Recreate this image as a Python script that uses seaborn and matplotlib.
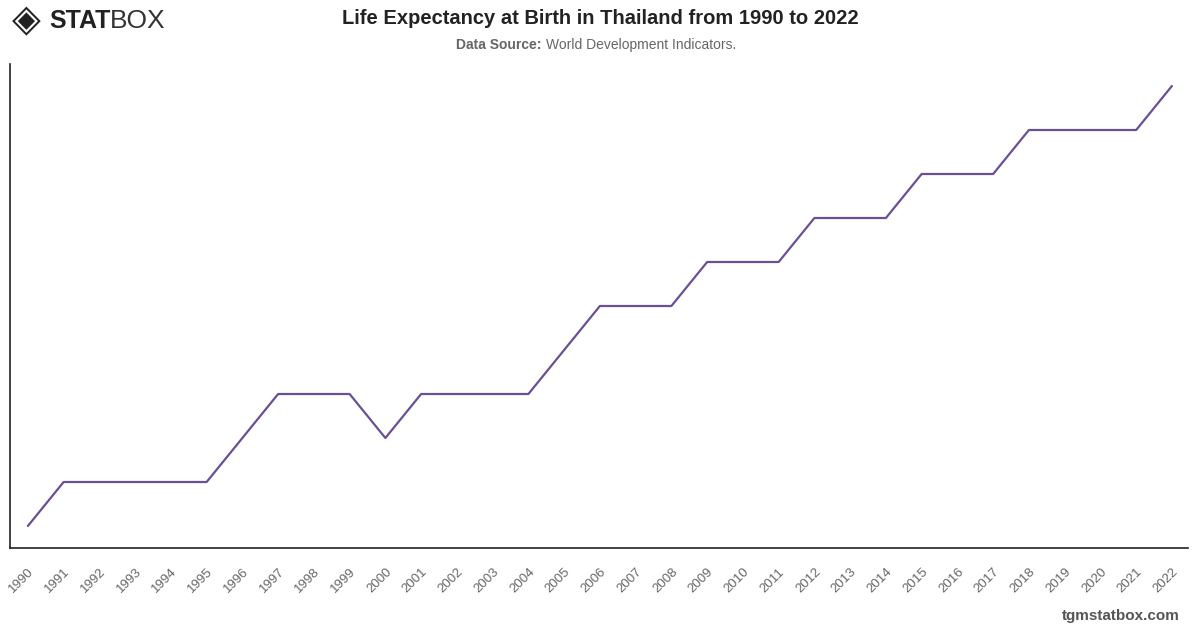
import matplotlib
matplotlib.use("Agg")
import matplotlib.pyplot as plt
import seaborn as sns
import pandas as pd

# life expectancy (years)
years = list(range(1990, 2023))
life_exp = [70, 71, 71, 71, 71, 71, 72, 73, 73, 73,
            72, 73, 73, 73, 73, 74, 75, 75, 75, 76,
            76, 76, 77, 77, 77, 78, 78, 78, 79, 79,
            79, 79, 80]
year_labels = [str(y) for y in years]

df = pd.DataFrame({"idx": range(len(years)), "value": life_exp})

sns.set_style("white")
plt.rcParams["font.family"] = ["Liberation Sans", "DejaVu Sans"]

fig = plt.figure(figsize=(12, 6.28), dpi=100)
ax = fig.add_axes([10 / 1200, 80 / 628, 1178 / 1200, 484 / 628])

sns.lineplot(data=df, x="idx", y="value", ax=ax, color="#6a4f96", linewidth=1.6)

ax.set_xlim(-0.5, len(years) - 1 + 0.45)
ax.set_ylim(69.5, 80.5)
ax.set_yticks([])
ax.set_xticks(range(len(years)))
ax.set_xticklabels(year_labels, rotation=45, ha="right", rotation_mode="anchor",
                   fontsize=9.5, color="#666666")
ax.tick_params(axis="x", length=0, pad=13)
ax.set_xlabel("")
ax.set_ylabel("")
for side in ["top", "right"]:
    ax.spines[side].set_visible(False)
for side in ["left", "bottom"]:
    ax.spines[side].set_color("#222222")
    ax.spines[side].set_linewidth(1.2)

# titles
fig.text(0.5, 1 - 18 / 628, "Life Expectancy at Birth in Thailand from 1990 to 2022",
         ha="center", va="center", fontsize=14.5, fontweight="bold", color="#222222")
fig.text(541 / 1200, 1 - 45 / 628, "Data Source:", ha="right", va="center", fontsize=10,
         fontweight="bold", color="#666666")
fig.text(546 / 1200, 1 - 45 / 628, "World Development Indicators.", ha="left",
         va="center", fontsize=10, color="#666666")

# logo
fig.text(12 / 1200, 1 - 21 / 628, "\u25C8", ha="left", va="center", fontsize=27,
         color="#222222", family=["DejaVu Sans"])
fig.text(49 / 1200, 1 - 21 / 628, "STAT", ha="left", va="center", fontsize=18,
         fontweight="heavy", color="#222222")
fig.text(110 / 1200, 1 - 21 / 628, "BOX", ha="left", va="center", fontsize=19,
         fontweight="light", color="#333333")

# footer
fig.text(1180 / 1200, 1 - 616 / 628, "tgmstatbox.com", ha="right", va="center",
         fontsize=11, fontweight="bold", color="#555555")

fig.savefig("out.png", dpi=100, facecolor="white")
